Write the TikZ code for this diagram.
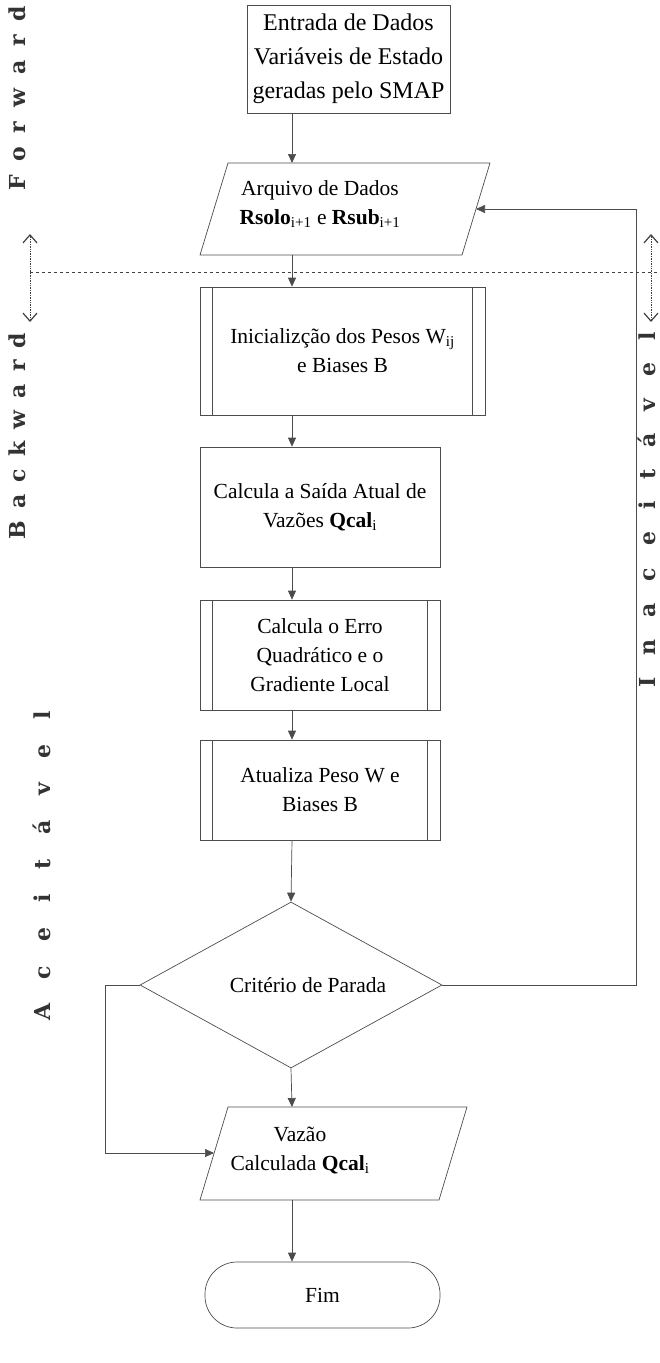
\documentclass[tikz,border=0pt]{standalone}
\usepackage{fontspec}
\setmainfont{Liberation Serif}
\newfontfamily\sidefam{DejaVu Serif}
\usetikzlibrary{arrows.meta,shapes.geometric}
\newcommand{\mfont}{\fontsize{21.5}{29}\selectfont}
\newcommand{\bigfont}{\fontsize{24}{34}\selectfont}
\newcommand{\sidefont}[1]{\sidefam\fontsize{22}{24}\selectfont\bfseries\addfontfeatures{LetterSpace=#1}}
\begin{document}
\begin{tikzpicture}[x=1pt,y=-1pt,
  line width=0.7pt,
  lc/.style={draw=black!70},
  box/.style={lc, rectangle, align=center, font=\mfont, inner sep=2pt},
  ptext/.style={align=center, font=\mfont, inner sep=0pt},
  arr/.style={black!70, -{Triangle[length=9pt,width=8pt]}},
  sidearr/.style={black!75, densely dotted, {Straight Barb[length=8pt,width=14pt,line width=1.2pt]}-{Straight Barb[length=8pt,width=14pt,line width=1.2pt]}},
  sidelab/.style={rotate=90, black!80, inner sep=0pt}
]
\useasboundingbox (0,0) rectangle (659,1363);
\coordinate (axis) at (292,0);

% process boxes
\node[box, font=\bigfont, minimum width=203, minimum height=108] (b1) at (348.5,59)
  {Entrada de Dados\\Variáveis de Estado\\geradas pelo SMAP};
\node[box, minimum width=285, minimum height=128] (b3) at (342.5,351)
  {Inicializção dos Pesos W\textsubscript{ij}\\e Biases B};
\node[box, minimum width=240, minimum height=120] (b4) at (320,507)
  {Calcula a Saída Atual de\\Vazões \textbf{Qcal}\textsubscript{i}};
\node[box, minimum width=240, minimum height=110] (b5) at (320,655)
  {Calcula o Erro\\Quadrático e o\\Gradiente Local};
\node[box, minimum width=240, minimum height=100] (b6) at (320,790)
  {Atualiza Peso W e\\Biases B};
\node[lc, diamond, minimum width=302, minimum height=166, inner sep=0pt] (dia) at (291,985) {};
\node[ptext] (diat) at (308,985) {Critério de Parada};
\node[lc, rectangle, rounded corners=32pt, minimum width=235, minimum height=66, font=\mfont] (fim) at (322.5,1295) {Fim};

% data (parallelogram) shapes
\draw[lc] (228,163) coordinate (p1tl) -- (490,163) coordinate (p1tr)
  -- (462,255) coordinate (p1br) -- (200,255) coordinate (p1bl) -- cycle;
\coordinate (p1top) at (292,163);
\coordinate (p1bot) at (292,255);
\coordinate (p1e) at (476,209);
\node[ptext] (p1) at (320,204)
  {Arquivo de Dados\\\textbf{Rsolo}\textsubscript{i+1} e \textbf{Rsub}\textsubscript{i+1}};

\draw[lc] (228,1107) coordinate (p2tl) -- (467,1107) coordinate (p2tr)
  -- (439,1200) coordinate (p2br) -- (200,1200) coordinate (p2bl) -- cycle;
\coordinate (p2top) at (292,1107);
\coordinate (p2bot) at (292,1200);
\coordinate (p2w) at (214,1153);
\node[ptext] (p2) at (300,1150)
  {Vazão\\Calculada \textbf{Qcal}\textsubscript{i}};

% predefined-process inner lines
\foreach \n in {b3,b5,b6}{
  \draw[lc] ([xshift=13]\n.north west) -- ([xshift=13]\n.south west);
  \draw[lc] ([xshift=-13]\n.north east) -- ([xshift=-13]\n.south east);
}

% main flow connectors
\draw[arr] (b1.south -| axis) -- (p1top);
\draw[arr] (p1bot) -- (b3.north -| axis);
\draw[arr] (b3.south -| axis) -- (b4.north -| axis);
\draw[arr] (b4.south -| axis) -- (b5.north -| axis);
\draw[arr] (b5.south -| axis) -- (b6.north -| axis);
\draw[arr] (b6.south -| axis) -- (dia.north);
\draw[arr] (dia.south) -- (p2top);
\draw[arr] (p2bot) -- (fim.north -| axis);

% loops
\coordinate (rl) at (636,0);
\draw[arr] (dia.east) -- (dia.east -| rl) -- (p1e -| rl) -- (p1e);
\coordinate (ll) at (105,0);
\draw[arr] (dia.west) -- (dia.west -| ll) -- (p2w -| ll) -- (p2w);

% forward/backward divider
\coordinate (dl) at (30,272);
\coordinate (dr) at (659,272);
\draw[black!75, dashed, line width=0.8pt] (dl) -- (dr);
\coordinate (la1) at (30,234);
\coordinate (la2) at (30,322);
\draw[sidearr] (la1) -- (la2);
\coordinate (ra1) at (651,234);
\coordinate (ra2) at (651,322);
\draw[sidearr] (ra1) -- (ra2);

% side labels
\node[sidelab, font=\sidefont{63}] (fw) at (17,98) {Forward};
\node[sidelab, font=\sidefont{55}] (bw) at (17,436) {Backward};
\node[sidelab, font=\sidefont{100}] (ina) at (647,510) {Inaceitável};
\node[sidelab, font=\sidefont{112}] (ace) at (42,866) {Aceitável};
\end{tikzpicture}
\end{document}
